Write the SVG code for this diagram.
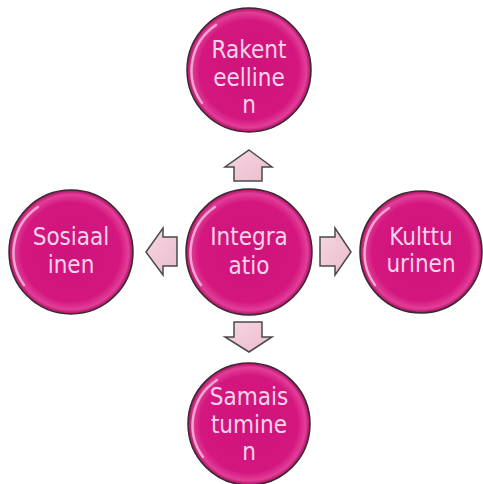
<svg xmlns="http://www.w3.org/2000/svg" width="483" height="484" viewBox="0 0 483 484">
<defs>
<radialGradient id="ball" cx="0.5" cy="0.5" r="0.5">
<stop offset="0" stop-color="#D0137C"/>
<stop offset="0.8" stop-color="#D3177F"/>
<stop offset="0.93" stop-color="#E23E98"/>
<stop offset="1" stop-color="#A80E62"/>
</radialGradient>
<linearGradient id="arr" x1="0" y1="0" x2="1" y2="1">
<stop offset="0" stop-color="#F6D6E2"/>
<stop offset="1" stop-color="#EBBCCD"/>
</linearGradient>
<style>
.ball{fill:url(#ball);stroke:#3a2a30;stroke-width:1.5}
.shine{fill:none;stroke:#ffffff;stroke-opacity:0.55;stroke-width:2.5;stroke-linecap:round}
.lbl{font-family:"DejaVu Sans Condensed","DejaVu Sans",sans-serif;font-size:24px;fill:#F7D3E8;text-anchor:middle}
.arrow{fill:url(#arr);stroke:#4a4a4a;stroke-width:1.5;stroke-linejoin:miter}
</style>
</defs>
<g id="connectors">
<path class="arrow" d="M249,150 L272,167 L262,167 L262,181 L234,181 L234,167 L225,167 Z"/>
<path class="arrow" d="M249,352 L272,337 L262,337 L262,322 L234,322 L234,337 L225,337 Z"/>
<path class="arrow" d="M146,252 L163,228 L163,237 L177,237 L177,266 L163,266 L163,275 Z"/>
<path class="arrow" d="M351,252 L335,228 L335,237 L320,237 L320,266 L335,266 L335,275 Z"/>
</g>
<g id="node-center">
<circle class="ball" cx="249" cy="252" r="63"/>
<path class="shine" d="M201,285 A55,55 0 0 1 215,207"/>
<text class="lbl" x="249" y="245">Integra</text>
<text class="lbl" x="249" y="274">atio</text>
</g>
<g id="node-top">
<circle class="ball" cx="249" cy="70" r="62"/>
<path class="shine" d="M202,103 A55,55 0 0 1 216,25"/>
<text class="lbl" x="249" y="58">Rakent</text>
<text class="lbl" x="249" y="86">eelline</text>
<text class="lbl" x="249" y="113">n</text>
</g>
<g id="node-left">
<circle class="ball" cx="71" cy="252" r="62"/>
<path class="shine" d="M24,285 A55,55 0 0 1 38,207"/>
<text class="lbl" x="71" y="245">Sosiaal</text>
<text class="lbl" x="71" y="273">inen</text>
</g>
<g id="node-right">
<circle class="ball" cx="421" cy="252" r="61"/>
<path class="shine" d="M375,285 A54,54 0 0 1 389,208"/>
<text class="lbl" x="421" y="245">Kulttu</text>
<text class="lbl" x="421" y="272">urinen</text>
</g>
<g id="node-bottom">
<circle class="ball" cx="249" cy="424" r="61"/>
<path class="shine" d="M203,457 A54,54 0 0 1 217,380"/>
<text class="lbl" x="249" y="405">Samais</text>
<text class="lbl" x="249" y="433">tumine</text>
<text class="lbl" x="249" y="460">n</text>
</g>
</svg>
